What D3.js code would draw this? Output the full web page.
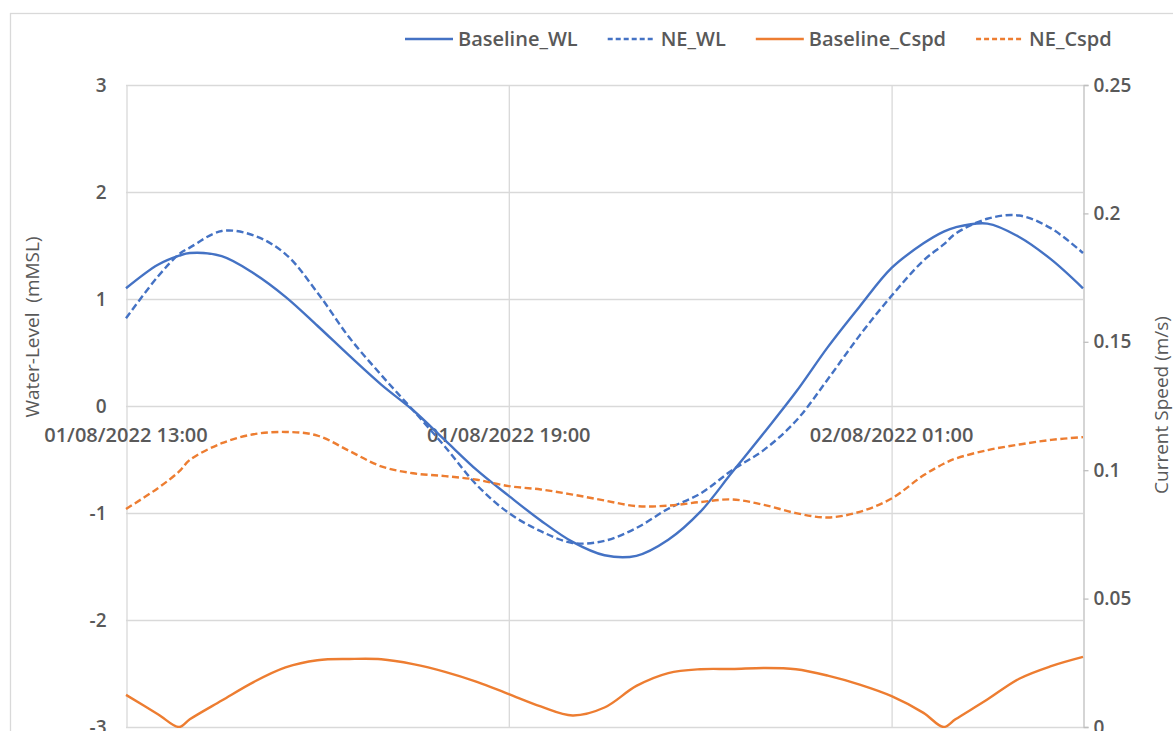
<!DOCTYPE html>
<html>
<head>
<meta charset="utf-8">
<script src="https://cdn.jsdelivr.net/npm/d3@7"></script>
<style>
  body { margin: 0; background: #fff; }
  text { font-family: "Open Sans", "Noto Sans", sans-serif; fill: #595959; }
</style>
</head>
<body>
<svg id="chart" width="1173" height="731"></svg>
<script>
// time stamps of the readings (dd/mm/yyyy HH:MM)
var times = [
  "01/08/2022 13:00", "01/08/2022 13:30", "01/08/2022 13:50", "01/08/2022 14:00",
  "01/08/2022 14:30", "01/08/2022 15:00", "01/08/2022 15:30", "01/08/2022 16:00",
  "01/08/2022 16:30", "01/08/2022 17:00", "01/08/2022 17:30", "01/08/2022 18:00",
  "01/08/2022 18:30", "01/08/2022 19:00", "01/08/2022 19:30", "01/08/2022 20:00",
  "01/08/2022 20:30", "01/08/2022 21:00", "01/08/2022 21:30", "01/08/2022 22:00",
  "01/08/2022 22:30", "01/08/2022 23:00", "01/08/2022 23:30", "02/08/2022 00:00",
  "02/08/2022 00:30", "02/08/2022 01:00", "02/08/2022 01:30", "02/08/2022 01:49",
  "02/08/2022 02:00", "02/08/2022 02:30", "02/08/2022 03:00", "02/08/2022 03:30",
  "02/08/2022 04:00"
];

// water level (mMSL)
var baselineWL = [1.10, 1.32, 1.405, 1.43, 1.40, 1.24, 1.02, 0.75, 0.47, 0.20, -0.04,
  -0.32, -0.60, -0.84, -1.07, -1.27, -1.395, -1.40, -1.25, -0.99, -0.62, -0.25, 0.13,
  0.55, 0.93, 1.29, 1.52, 1.63, 1.67, 1.705, 1.58, 1.37, 1.10];
var neWL = [0.82, 1.21, 1.42, 1.48, 1.635, 1.595, 1.42, 1.06, 0.64, 0.29, -0.04,
  -0.38, -0.74, -1.00, -1.17, -1.28, -1.26, -1.14, -0.96, -0.82, -0.60, -0.41, -0.14,
  0.25, 0.66, 1.03, 1.36, 1.51, 1.61, 1.75, 1.78, 1.66, 1.43];

// current speed (m/s)
var baselineCspd = [0.0125, 0.0050, 0.0, 0.0030, 0.0103, 0.0175, 0.0232, 0.0260, 0.0265,
  0.0264, 0.0245, 0.0215, 0.0176, 0.0128, 0.0080, 0.0045, 0.0076, 0.0160, 0.0210,
  0.0225, 0.0226, 0.0230, 0.0225, 0.0200, 0.0165, 0.0120, 0.0055, 0.0, 0.0030,
  0.0107, 0.0188, 0.0237, 0.0273];
var neCspd = [0.0849, 0.0930, 0.0995, 0.1040, 0.1105, 0.1140, 0.1149, 0.1135, 0.1075,
  0.1015, 0.0988, 0.0977, 0.0963, 0.0938, 0.0925, 0.0905, 0.0882, 0.0860, 0.0862,
  0.0876, 0.0886, 0.0865, 0.0833, 0.0816, 0.0838, 0.0890, 0.0980, 0.1025, 0.1045,
  0.1078, 0.1100, 0.1118, 0.1129];

var xTickLabels = ["01/08/2022 13:00", "01/08/2022 19:00", "02/08/2022 01:00"];
var xDomain = ["01/08/2022 13:00", "02/08/2022 04:00"];
var wlTicks = [-3, -2, -1, 0, 1, 2, 3];
var cspdTicks = [0, 0.05, 0.1, 0.15, 0.2, 0.25];

var parseTime = d3.timeParse("%d/%m/%Y %H:%M");
var fmtLabel = d3.timeFormat("%d/%m/%Y %H:%M");

var svg = d3.select("#chart"),
  pLeft = 126, pRight = 1083, pTop = 85, pBottom = 727;

var blue = "#4472C4", orange = "#ED7D31", grid = "#d9d9d9";

// outer chart border
svg.append("rect")
  .attr("x", 10.5).attr("y", 13.5)
  .attr("width", 1300).attr("height", 800)
  .attr("fill", "none").attr("stroke", grid).attr("stroke-width", 1.3);

svg.append("clipPath").attr("id", "plot")
  .append("rect").attr("x", pLeft - 2).attr("y", pTop - 2)
  .attr("width", pRight - pLeft + 4).attr("height", pBottom - pTop + 3);

var x = d3.scaleTime().domain(xDomain.map(parseTime)).range([pLeft, pRight]);
var yWL = d3.scaleLinear().domain([-3, 3]).range([pBottom, pTop]);
var ySpd = d3.scaleLinear().domain([0, 0.25]).range([pBottom, pTop]);

// gridlines
svg.append("g").selectAll("line")
  .data(wlTicks)
  .join("line")
  .attr("x1", pLeft).attr("x2", pRight)
  .attr("y1", function(d) { return yWL(d) + 0.5; })
  .attr("y2", function(d) { return yWL(d) + 0.5; })
  .attr("stroke", grid).attr("stroke-width", 1.3);

svg.append("g").selectAll("line")
  .data(xTickLabels.slice(1).map(parseTime))
  .join("line")
  .attr("x1", function(d) { return x(d) + 0.5; })
  .attr("x2", function(d) { return x(d) + 0.5; })
  .attr("y1", pTop).attr("y2", pBottom)
  .attr("stroke", grid).attr("stroke-width", 1.3);

// left axis
var yaxis = d3.axisLeft(yWL).tickValues(wlTicks).tickSize(0).tickPadding(20)
  .tickFormat(function(d) { return String(d); });
var gl = svg.append("g").attr("transform", "translate(" + (pLeft + 0.5) + ",0)").call(yaxis);
gl.select(".domain").attr("stroke", grid).attr("stroke-width", 1.3);
gl.selectAll("text").style("font-size", "19px").style("font-weight", 600).attr("fill", "#595959");

// right axis
var y2axis = d3.axisRight(ySpd).tickValues(cspdTicks).tickSize(5).tickPadding(5)
  .tickFormat(function(d) { return String(d); });
var gr = svg.append("g").attr("transform", "translate(" + (pRight + 0.5) + ",0)").call(y2axis);
gr.select(".domain").attr("stroke", "#bfbfbf").attr("stroke-width", 1.3);
gr.selectAll(".tick line").attr("stroke", "#bfbfbf").attr("stroke-width", 1.3);
gr.selectAll("text").style("font-size", "19px").style("font-weight", 600).attr("fill", "#595959");
svg.selectAll("g").attr("font-family", null);

// x labels sit on the zero line
svg.append("g").selectAll("text")
  .data(xTickLabels.map(parseTime))
  .join("text")
  .attr("x", function(d) { return x(d); })
  .attr("y", yWL(0) + 36)
  .attr("text-anchor", "middle")
  .style("font-size", "20px").style("font-weight", 600)
  .text(function(d) { return fmtLabel(d); });

// axis titles
svg.append("text")
  .attr("transform", "translate(39,327) rotate(-90)")
  .attr("text-anchor", "middle")
  .style("font-size", "19px")
  .style("white-space", "pre")
  .text("Water-Level  (mMSL)");

svg.append("text")
  .attr("transform", "translate(1168,405) rotate(-90)")
  .attr("text-anchor", "middle")
  .style("font-size", "19px")
  .text("Current Speed (m/s)");

// lines
var dates = times.map(parseTime);
function series(vals) {
  return vals.map(function(v, i) { return {t: dates[i], v: v}; });
}
var wlLine = d3.line().curve(d3.curveCatmullRom.alpha(0.5))
  .x(function(d) { return x(d.t); })
  .y(function(d) { return yWL(d.v); });
var spdLine = d3.line().curve(d3.curveCatmullRom.alpha(0.5))
  .x(function(d) { return x(d.t); })
  .y(function(d) { return ySpd(d.v); });

var lines = [
  {name: "Baseline_WL", data: baselineWL, gen: wlLine, color: blue, dash: null},
  {name: "NE_WL", data: neWL, gen: wlLine, color: blue, dash: "7,3.5"},
  {name: "Baseline_Cspd", data: baselineCspd, gen: spdLine, color: orange, dash: null},
  {name: "NE_Cspd", data: neCspd, gen: spdLine, color: orange, dash: "7,3.5"}
];

var plot = svg.append("g").attr("clip-path", "url(#plot)");
lines.forEach(function(s) {
  plot.append("path")
    .datum(series(s.data))
    .attr("fill", "none")
    .attr("stroke", s.color)
    .attr("stroke-width", 2.4)
    .attr("stroke-dasharray", s.dash)
    .attr("d", s.gen);
});

// legend
var lx = 405, ly = 39;
lines.forEach(function(s) {
  svg.append("line")
    .attr("x1", lx).attr("x2", lx + 48)
    .attr("y1", ly).attr("y2", ly)
    .attr("stroke", s.color).attr("stroke-width", 2.4)
    .attr("stroke-dasharray", s.dash ? "5,3" : null);
  var t = svg.append("text")
    .attr("x", lx + 53).attr("y", ly).attr("dy", "0.35em")
    .style("font-size", "20px").style("font-weight", 600)
    .text(s.name);
  lx = lx + 53 + t.node().getComputedTextLength() + 30;
});
</script>
</body>
</html>
